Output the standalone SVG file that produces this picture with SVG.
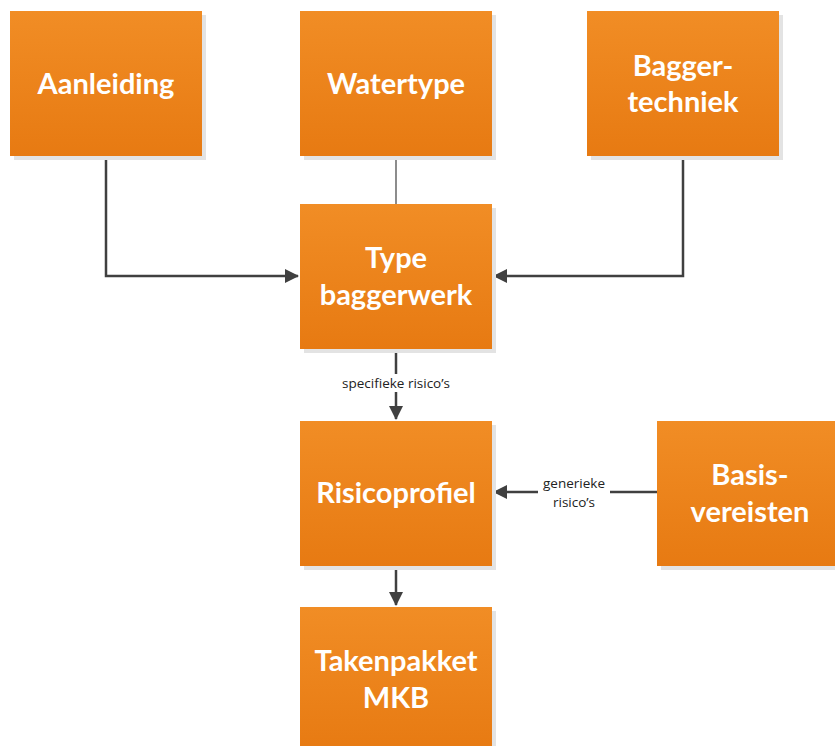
<svg xmlns="http://www.w3.org/2000/svg" width="835" height="746" viewBox="0 0 835 746">
<defs>
<linearGradient id="og" x1="0" y1="0" x2="0" y2="1">
<stop offset="0" stop-color="#f18d25"/>
<stop offset="1" stop-color="#e77a12"/>
</linearGradient>
<marker id="ah" markerWidth="14" markerHeight="14" refX="13" refY="7" orient="auto" markerUnits="userSpaceOnUse">
<path d="M0,0 L14,7 L0,14 Z" fill="#404040"/>
</marker>
<style>
.sh{fill:#e3e3e3}
.bx{fill:url(#og)}
.t{font-family:Lato,"Open Sans","Liberation Sans",sans-serif;font-weight:bold;font-size:29px;fill:#fff;text-anchor:middle}
.c{fill:none;stroke:#404040;stroke-width:2.5}
.l{font-family:"Open Sans","Liberation Sans",sans-serif;font-size:13.5px;fill:#222;text-anchor:middle}
</style>
</defs>
<rect width="835" height="746" fill="#fff"/>
<g id="connectors">
<path class="c" d="M106,156 V276 H298" marker-end="url(#ah)"/>
<path d="M396,156 V204" stroke="#404040" stroke-width="1.2" fill="none"/>
<path class="c" d="M683,156 V276 H494" marker-end="url(#ah)"/>
<path class="c" d="M396,349 V419" marker-end="url(#ah)"/>
<rect x="336" y="374" width="120" height="18" fill="#fff"/>
<text class="l" x="396" y="388">specifieke risico’s</text>
<path class="c" d="M657,492 H494" marker-end="url(#ah)"/>
<rect x="538" y="474" width="72" height="38" fill="#fff"/>
<text class="l" x="574" y="488">generieke</text>
<text class="l" x="574" y="507">risico’s</text>
<path class="c" d="M396,566 V605" marker-end="url(#ah)"/>
</g>
<g id="aanleiding">
<rect class="sh" x="14" y="15" width="192" height="145"/>
<rect class="bx" x="10" y="11" width="192" height="145"/>
<text class="t" x="106" y="94">Aanleiding</text>
</g>
<g id="watertype">
<rect class="sh" x="304" y="15" width="192" height="145"/>
<rect class="bx" x="300" y="11" width="192" height="145"/>
<text class="t" x="396" y="94">Watertype</text>
</g>
<g id="baggertechniek">
<rect class="sh" x="591" y="15" width="192" height="145"/>
<rect class="bx" x="587" y="11" width="192" height="145"/>
<text class="t" x="683" y="76">Bagger-</text>
<text class="t" x="683" y="112">techniek</text>
</g>
<g id="typebaggerwerk">
<rect class="sh" x="304" y="208" width="192" height="145"/>
<rect class="bx" x="300" y="204" width="192" height="145"/>
<text class="t" x="396" y="268">Type</text>
<text class="t" x="396" y="305">baggerwerk</text>
</g>
<g id="risicoprofiel">
<rect class="sh" x="304" y="425" width="192" height="145"/>
<rect class="bx" x="300" y="421" width="192" height="145"/>
<text class="t" x="396" y="503">Risicoprofiel</text>
</g>
<g id="basisvereisten">
<rect class="sh" x="661" y="425" width="192" height="145"/>
<rect class="bx" x="657" y="421" width="192" height="145"/>
<text class="t" x="750" y="485">Basis-</text>
<text class="t" x="750" y="522">vereisten</text>
</g>
<g id="takenpakket">
<rect class="sh" x="304" y="611" width="192" height="145"/>
<rect class="bx" x="300" y="607" width="192" height="145"/>
<text class="t" x="396" y="671">Takenpakket</text>
<text class="t" x="396" y="708">MKB</text>
</g>
</svg>
